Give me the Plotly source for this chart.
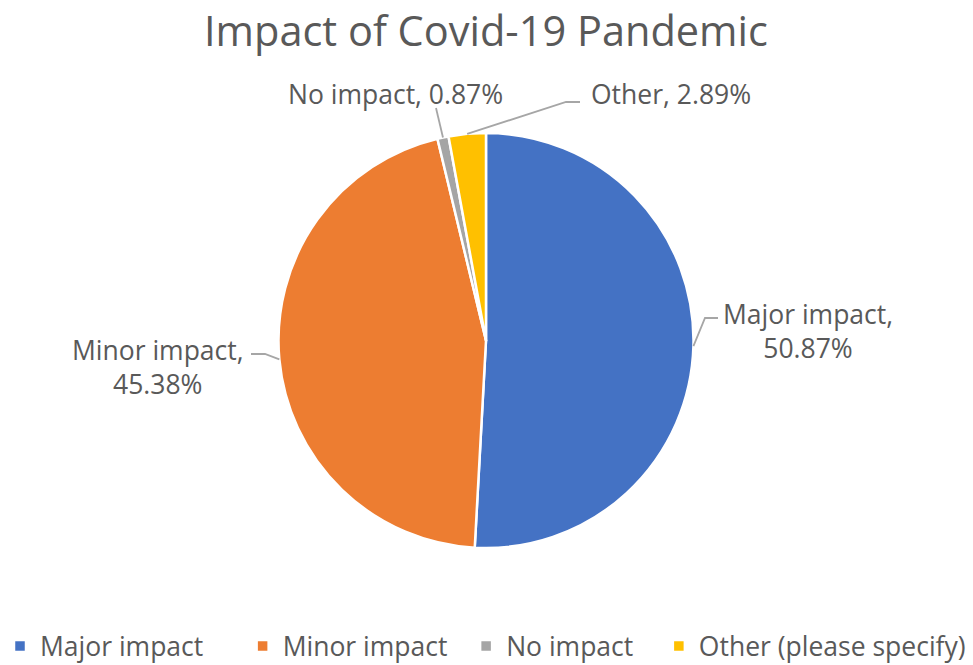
import math
import plotly.graph_objects as go

# ---- data ----
categories = ["Major impact", "Minor impact", "No impact", "Other (please specify)"]
short_names = ["Major impact", "Minor impact", "No impact", "Other"]
values = [50.87, 45.38, 0.87, 2.89]
colors = ["#4472C4", "#ED7D31", "#A5A5A5", "#FFC000"]

# ---- layout constants (pixels) ----
W, H = 973, 665
CX, CY, R = 486, 340.5, 207.5
FONT = "Open Sans"
TXT = "#595959"
LEADER = "#A6A6A6"
NBSP = "\u00a0"
legend_pad = [5, 2, 3, 0]

def X(px):
    return px / W

def Y(py):
    return 1 - py / H

label_layout = [
    dict(x=808, y=331, elbow=[(718, 318), (705, 318)], two_lines=True),
    dict(x=158, y=367, elbow=[(251, 354), (265, 354)], two_lines=True),
    dict(x=395, y=94, elbow=[(436, 108)], two_lines=False),
    dict(x=671, y=94, elbow=[(580, 102), (566, 102)], two_lines=False),
]

fig = go.Figure(
    go.Pie(
        labels=[c + NBSP * p for c, p in zip(categories, legend_pad)],
        values=values,
        marker=dict(colors=colors, line=dict(color="white", width=2.5)),
        sort=False,
        direction="clockwise",
        rotation=0,
        textinfo="none",
        hoverinfo="label+percent",
        domain=dict(x=[X(CX - R), X(CX + R)], y=[Y(CY + R), Y(CY - R)]),
    )
)

total = sum(values)
cum = 0.0
shapes = []
annotations = []
for i, v in enumerate(values):
    theta = 2 * math.pi * (cum + v / 2) / total
    cum += v
    ex = CX + R * math.sin(theta)
    ey = CY - R * math.cos(theta)
    lay = label_layout[i]
    pts = lay["elbow"] + [(ex, ey)]
    path = "M " + " L ".join(f"{X(px):.5f},{Y(py):.5f}" for px, py in pts)
    shapes.append(dict(type="path", xref="paper", yref="paper", path=path,
                       line=dict(color=LEADER, width=1.8)))
    sep = ",<br>" if lay["two_lines"] else ", "
    annotations.append(dict(
        x=X(lay["x"]), y=Y(lay["y"]), xref="paper", yref="paper",
        text=f"{short_names[i]}{sep}{v:.2f}%", showarrow=False,
        xanchor="center", yanchor="middle", align="center",
        font=dict(family=FONT, size=26.5, color=TXT),
    ))

annotations.append(dict(
    x=X(CX), y=Y(30), xref="paper", yref="paper",
    text="Impact of Covid-19 Pandemic", showarrow=False,
    xanchor="center", yanchor="middle",
    font=dict(family=FONT, size=41.5, color=TXT),
))

fig.update_layout(
    width=W, height=H,
    margin=dict(l=0, r=0, t=0, b=0, autoexpand=False),
    paper_bgcolor="white",
    shapes=shapes,
    annotations=annotations,
    showlegend=True,
    legend=dict(
        orientation="h", x=0, xanchor="left", y=-0.008, yanchor="bottom",
        font=dict(family=FONT, size=26.5, color=TXT),
        traceorder="normal",
    ),
)

fig.write_html("out.html")
